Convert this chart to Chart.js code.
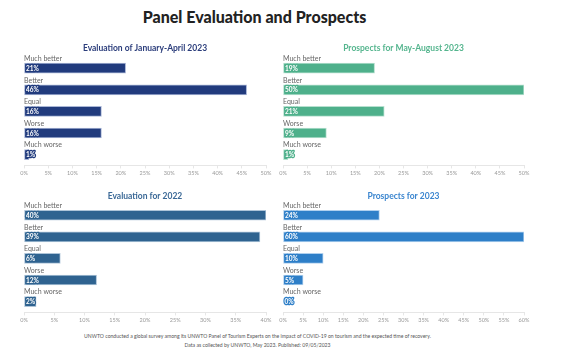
<!DOCTYPE html>
<html>
<head>
<meta charset="utf-8">
<script src="https://cdn.jsdelivr.net/npm/chart.js@4"></script>
<style>
  body { margin: 0; background: #fff; font-family: Lato, sans-serif; }
  #wrap { position: relative; width: 567px; height: 353px; overflow: hidden; }
  #title { position: absolute; left: -29px; top: 7px; width: 567px; text-align: center;
           font-weight: 900; font-size: 16px; color: #222; }
  .box { position: absolute; }
  #note { position: absolute; left: -26px; top: 332px; width: 567px; text-align: center;
          font-size: 5.1px; line-height: 9px; color: #555; }
</style>
</head>
<body>
<div id="wrap">
  <div id="title">Panel Evaluation and Prospects</div>
  <div class="box" style="left:0;top:40px;width:280px;height:139px"><canvas id="c1"></canvas></div>
  <div class="box" style="left:275px;top:40px;width:292px;height:139px"><canvas id="c2"></canvas></div>
  <div class="box" style="left:0;top:190px;width:280px;height:136px"><canvas id="c3"></canvas></div>
  <div class="box" style="left:275px;top:190px;width:292px;height:136px"><canvas id="c4"></canvas></div>
  <div id="note">UNWTO conducted a global survey among its UNWTO Panel of Tourism Experts on the impact of COVID-19 on tourism and the expected time of recovery.<br>Data as collected by UNWTO, May 2023. Published: 09/05/2023</div>
</div>
<script>
// 回答カテゴリ
const categories = ['Much better', 'Better', 'Equal', 'Worse', 'Much worse']

// 各パネルの値 (%)
const janApr2023 = [21, 46, 16, 16, 1]
const mayAug2023 = [19, 50, 21, 9, 1]
const eval2022 = [40, 39, 6, 12, 2]
const prospects2023 = [24, 60, 10, 5, 0]

// 軸の最大値
const axisMax = [50, 50, 40, 60]

// ラベル描画プラグイン（カテゴリ名はバーの上、値はバーの中）
const barLabels = {
    id: 'barLabels',
    afterDatasetsDraw(chart) {
        const ctx = chart.ctx
        const meta = chart.getDatasetMeta(0)
        const ds = chart.data.datasets[0]
        ctx.save()
        meta.data.forEach((bar, i) => {
            const top = bar.y - bar.height / 2
            ctx.font = '7px Lato'
            ctx.fillStyle = '#666'
            ctx.textAlign = 'left'
            ctx.textBaseline = 'bottom'
            ctx.fillText(chart.data.labels[i], chart.chartArea.left, top - 1)

            const txt = ds.data[i] + '%'
            ctx.font = 'bold 6.5px Lato'
            ctx.textBaseline = 'middle'
            ctx.lineJoin = 'round'
            ctx.lineWidth = 2.5
            ctx.strokeStyle = ds.labelHalo
            ctx.strokeText(txt, bar.base + 1.5, bar.y + 0.5)
            ctx.fillStyle = '#fff'
            ctx.fillText(txt, bar.base + 1.5, bar.y + 0.5)
        })
        ctx.restore()
    }
}

function makeChart(id, title, values, max, color, border, halo, titleColor, pad, titlePad) {
    return new Chart(document.getElementById(id), {
        type: 'bar',
        data: {
            labels: categories,
            datasets: [{
                data: values,
                backgroundColor: color,
                borderColor: border,
                borderWidth: 1,
                borderSkipped: false,
                barThickness: 10,
                labelHalo: halo
            }]
        },
        options: {
            indexAxis: 'y',
            responsive: true,
            maintainAspectRatio: false,
            animation: false,
            layout: { padding: pad },
            plugins: {
                legend: { display: false },
                tooltip: { enabled: false },
                title: {
                    display: true,
                    text: title,
                    color: titleColor,
                    font: { family: 'Lato', size: 8.5, weight: 'bold', lineHeight: 1.2 },
                    padding: titlePad
                }
            },
            scales: {
                y: { display: false },
                x: {
                    min: 0,
                    max: max,
                    grid: { drawOnChartArea: false, drawTicks: true, tickLength: 3, color: '#e6e6e6' },
                    border: { color: '#e6e6e6' },
                    ticks: {
                        stepSize: 5,
                        padding: 2,
                        color: '#999',
                        font: { family: 'Lato', size: 5.5 },
                        maxRotation: 0,
                        autoSkip: false,
                        callback: v => v + '%'
                    }
                }
            }
        },
        plugins: [barLabels]
    })
}

makeChart('c1', 'Evaluation of January-April 2023', janApr2023, axisMax[0],
    '#213b7d', '#a9b6d6', '#213b7d', '#2b3d7b',
    { left: 24, right: 14, top: 0, bottom: 0 }, { top: 3.2, bottom: 4 })
makeChart('c2', 'Prospects for May-August 2023', mayAug2023, axisMax[1],
    '#4eb08b', '#b6e0cf', '#4eb08b', '#55b58e',
    { left: 8, right: 43, top: 0, bottom: 0 }, { top: 3.2, bottom: 4 })
makeChart('c3', 'Evaluation for 2022', eval2022, axisMax[2],
    '#2f6390', '#aec4d8', '#2f6390', '#3a6896',
    { left: 24, right: 14, top: 0, bottom: 0 }, { top: 0.9, bottom: 3.4 })
makeChart('c4', 'Prospects for 2023', prospects2023, axisMax[3],
    '#2e7fc8', '#b0d0ee', '#2e7fc8', '#3a85cf',
    { left: 8, right: 43, top: 0, bottom: 0 }, { top: 0.9, bottom: 3.4 })
</script>
</body>
</html>
